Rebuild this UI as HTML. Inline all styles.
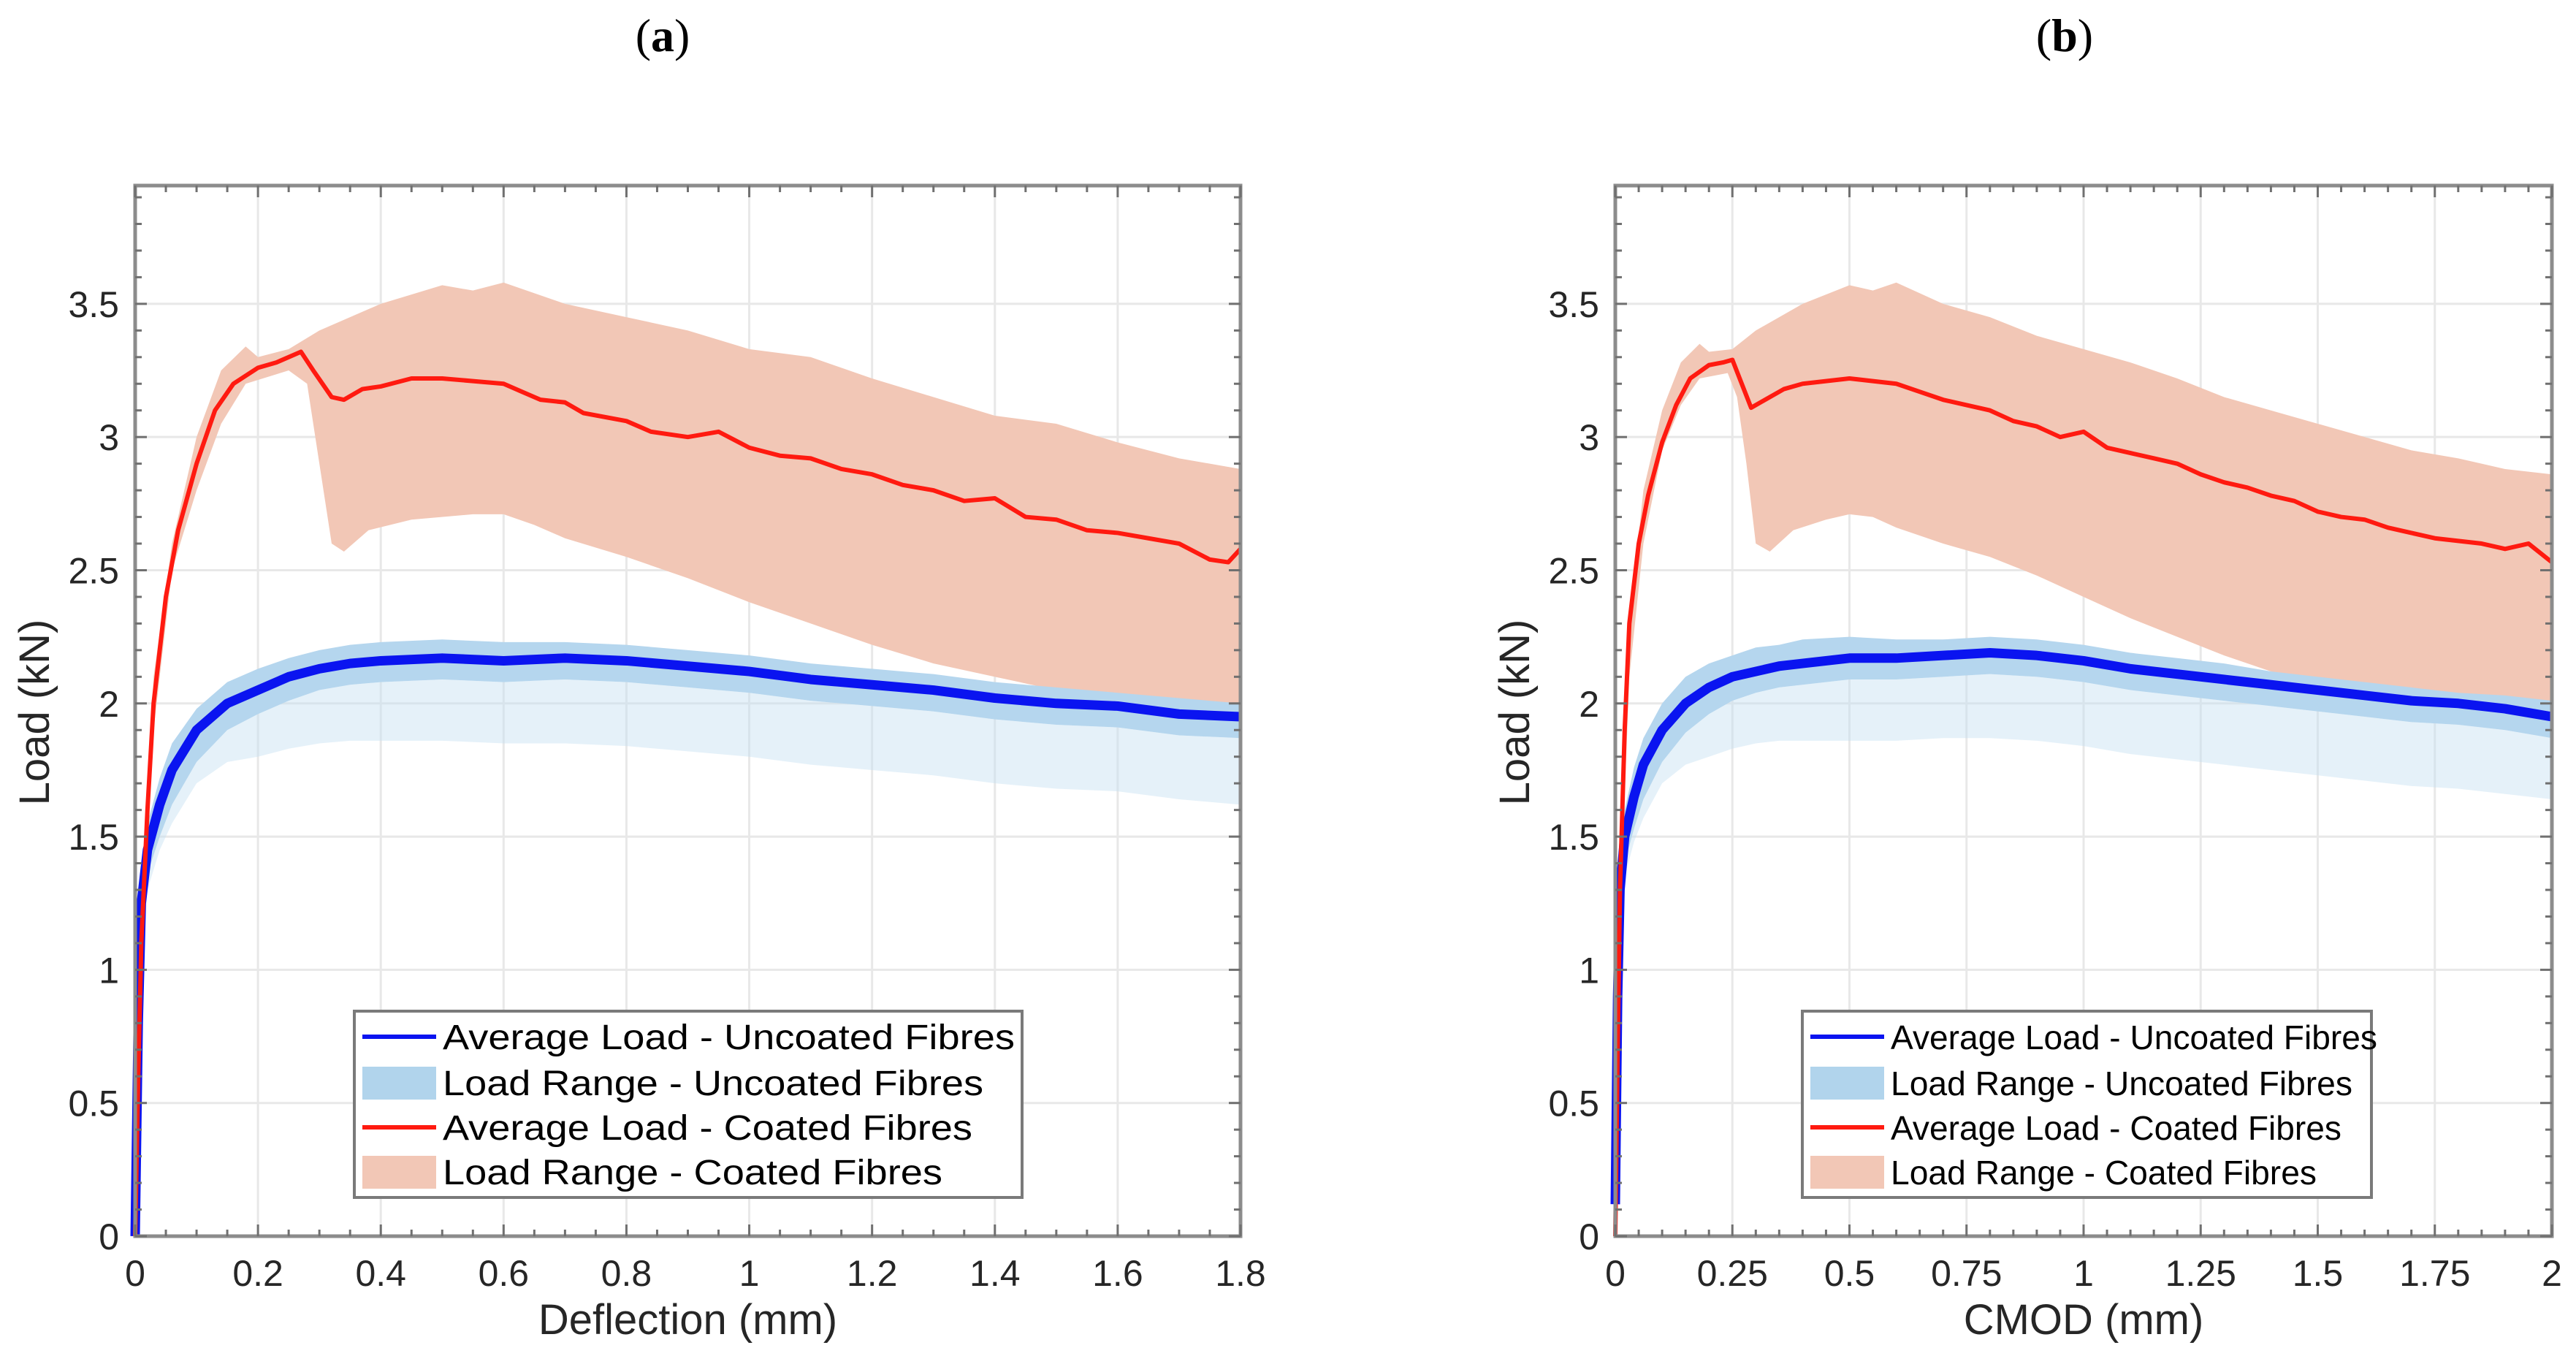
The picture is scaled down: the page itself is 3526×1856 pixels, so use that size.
<!DOCTYPE html>
<html><head><meta charset="utf-8">
<style>
html,body{margin:0;padding:0;background:#fff;}
svg{display:block;font-family:"Liberation Sans",Arial,sans-serif;}
</style></head>
<body>
<svg id="fig" width="3526" height="1856" viewBox="0 0 3526 1856" xmlns="http://www.w3.org/2000/svg">
<rect width="3526" height="1856" fill="#fff"/>
<text x="907" y="70" font-family="Liberation Serif,serif" font-size="64" text-anchor="middle" fill="#000">(<tspan font-weight="bold">a</tspan>)</text>
<text x="2826" y="70" font-family="Liberation Serif,serif" font-size="64" text-anchor="middle" fill="#000">(<tspan font-weight="bold">b</tspan>)</text>
</svg>
<script>
// ---------- Panel (a): Deflection ----------
const aCoatAvgX = [0,0.005,0.01,0.02,0.03,0.05,0.07,0.1,0.13,0.16,0.2,0.23,0.27,0.29,0.32,0.34,0.37,0.4,0.45,0.5,0.55,0.6,0.63,0.66,0.7,0.73,0.8,0.84,0.9,0.95,1.0,1.05,1.1,1.15,1.2,1.25,1.3,1.35,1.4,1.45,1.5,1.55,1.6,1.65,1.7,1.75,1.78,1.8];
const aCoatAvgY = [0,0.6,1.1,1.6,2.0,2.4,2.65,2.9,3.1,3.2,3.26,3.28,3.32,3.25,3.15,3.14,3.18,3.19,3.22,3.22,3.21,3.2,3.17,3.14,3.13,3.09,3.06,3.02,3.0,3.02,2.96,2.93,2.92,2.88,2.86,2.82,2.8,2.76,2.77,2.7,2.69,2.65,2.64,2.62,2.6,2.54,2.53,2.58];
const aCoatUpX = [0,0.01,0.03,0.06,0.1,0.14,0.18,0.2,0.25,0.3,0.4,0.5,0.55,0.6,0.7,0.8,0.9,1.0,1.1,1.2,1.3,1.4,1.5,1.6,1.7,1.8];
const aCoatUpY = [0,1.2,2.1,2.6,3.0,3.25,3.34,3.3,3.33,3.4,3.5,3.57,3.55,3.58,3.5,3.45,3.4,3.33,3.3,3.22,3.15,3.08,3.05,2.98,2.92,2.88];
const aCoatLoX = [0,0.01,0.03,0.06,0.1,0.14,0.18,0.25,0.28,0.3,0.32,0.34,0.38,0.45,0.55,0.6,0.65,0.7,0.8,0.9,1.0,1.1,1.2,1.3,1.4,1.5,1.6,1.7,1.8];
const aCoatLoY = [0,1.0,1.9,2.5,2.8,3.05,3.2,3.25,3.2,2.9,2.6,2.57,2.65,2.69,2.71,2.71,2.67,2.62,2.55,2.47,2.38,2.3,2.22,2.15,2.1,2.05,2.0,1.98,2.0];
const aUncAvgX = [0,0.005,0.01,0.02,0.04,0.06,0.1,0.15,0.2,0.25,0.3,0.35,0.4,0.5,0.6,0.7,0.8,0.9,1.0,1.1,1.2,1.3,1.4,1.5,1.6,1.7,1.8];
const aUncAvgY = [0,0.8,1.25,1.45,1.62,1.75,1.9,2.0,2.05,2.1,2.13,2.15,2.16,2.17,2.16,2.17,2.16,2.14,2.12,2.09,2.07,2.05,2.02,2.0,1.99,1.96,1.95];
const aUncUpY  = [0,0.9,1.35,1.55,1.72,1.85,1.98,2.08,2.13,2.17,2.2,2.22,2.23,2.24,2.23,2.23,2.22,2.2,2.18,2.15,2.13,2.11,2.08,2.06,2.04,2.02,2.0];
const aUncMidY = [0,0.72,1.18,1.36,1.5,1.62,1.78,1.9,1.96,2.01,2.05,2.07,2.08,2.09,2.08,2.09,2.08,2.06,2.04,2.01,1.99,1.97,1.94,1.92,1.91,1.88,1.87];
const aUncLoY  = [0,0.7,1.15,1.3,1.45,1.55,1.7,1.78,1.8,1.83,1.85,1.86,1.86,1.86,1.85,1.85,1.84,1.82,1.8,1.77,1.75,1.73,1.7,1.68,1.67,1.64,1.62];
const aXTicks = [0,0.2,0.4,0.6,0.8,1,1.2,1.4,1.6,1.8];
const aXTickLabels = ["0","0.2","0.4","0.6","0.8","1","1.2","1.4","1.6","1.8"];

// ---------- Panel (b): CMOD ----------
const bCoatAvgX = [0,0.005,0.01,0.02,0.03,0.05,0.07,0.1,0.13,0.16,0.2,0.23,0.25,0.27,0.29,0.32,0.36,0.4,0.45,0.5,0.55,0.6,0.65,0.7,0.75,0.8,0.85,0.9,0.95,1.0,1.05,1.1,1.15,1.2,1.25,1.3,1.35,1.4,1.45,1.5,1.55,1.6,1.65,1.7,1.75,1.8,1.85,1.9,1.95,2.0];
const bCoatAvgY = [0,0.7,1.3,1.9,2.3,2.6,2.78,2.98,3.12,3.22,3.27,3.28,3.29,3.2,3.11,3.14,3.18,3.2,3.21,3.22,3.21,3.2,3.17,3.14,3.12,3.1,3.06,3.04,3.0,3.02,2.96,2.94,2.92,2.9,2.86,2.83,2.81,2.78,2.76,2.72,2.7,2.69,2.66,2.64,2.62,2.61,2.6,2.58,2.6,2.53];
const bCoatUpX = [0,0.01,0.03,0.06,0.1,0.14,0.18,0.2,0.25,0.3,0.4,0.5,0.55,0.6,0.7,0.8,0.9,1.0,1.1,1.2,1.3,1.4,1.5,1.6,1.7,1.8,1.9,2.0];
const bCoatUpY = [0,1.4,2.3,2.8,3.1,3.28,3.35,3.32,3.33,3.4,3.5,3.57,3.55,3.58,3.5,3.45,3.38,3.33,3.28,3.22,3.15,3.1,3.05,3.0,2.95,2.92,2.88,2.86];
const bCoatLoX = [0,0.01,0.03,0.06,0.1,0.14,0.18,0.24,0.26,0.28,0.3,0.33,0.38,0.45,0.5,0.55,0.6,0.7,0.8,0.9,1.0,1.1,1.2,1.3,1.4,1.5,1.6,1.7,1.8,1.9,2.0];
const bCoatLoY = [0,1.2,2.1,2.6,2.95,3.12,3.22,3.24,3.15,2.9,2.6,2.57,2.65,2.69,2.71,2.7,2.66,2.6,2.55,2.48,2.4,2.32,2.25,2.18,2.12,2.07,2.03,2.0,1.98,1.98,2.0];
const bUncAvgX = [0,0.005,0.01,0.02,0.04,0.06,0.1,0.15,0.2,0.25,0.3,0.35,0.4,0.5,0.6,0.7,0.8,0.9,1.0,1.1,1.2,1.3,1.4,1.5,1.6,1.7,1.8,1.9,2.0];
const bUncAvgY = [0.12,0.9,1.3,1.5,1.65,1.77,1.9,2.0,2.06,2.1,2.12,2.14,2.15,2.17,2.17,2.18,2.19,2.18,2.16,2.13,2.11,2.09,2.07,2.05,2.03,2.01,2.0,1.98,1.95];
const bUncUpY  = [0.12,1.0,1.4,1.6,1.76,1.87,2.0,2.1,2.15,2.18,2.21,2.22,2.24,2.25,2.24,2.24,2.25,2.24,2.22,2.19,2.17,2.15,2.12,2.1,2.08,2.06,2.04,2.03,2.01];
const bUncMidY = [0.12,0.82,1.22,1.4,1.53,1.64,1.78,1.89,1.96,2.01,2.04,2.06,2.07,2.09,2.09,2.1,2.11,2.1,2.08,2.05,2.03,2.01,1.99,1.97,1.95,1.93,1.92,1.9,1.87];
const bUncLoY  = [0.12,0.8,1.2,1.35,1.48,1.57,1.7,1.77,1.8,1.83,1.85,1.86,1.86,1.86,1.86,1.87,1.87,1.86,1.84,1.81,1.79,1.77,1.75,1.73,1.71,1.69,1.68,1.66,1.64];
const bXTicks = [0,0.25,0.5,0.75,1,1.25,1.5,1.75,2];
const bXTickLabels = ["0","0.25","0.5","0.75","1","1.25","1.5","1.75","2"];

const yTicks = [0,0.5,1,1.5,2,2.5,3,3.5];
const yTickLabels = ["0","0.5","1","1.5","2","2.5","3","3.5"];
const legendLabels = ["Average Load - Uncoated Fibres","Load Range - Uncoated Fibres","Average Load - Coated Fibres","Load Range - Coated Fibres"];

const NS = "http://www.w3.org/2000/svg";
const svg = document.getElementById('fig');
function mk(tag, attrs, parent){
  const e = document.createElementNS(NS, tag);
  for (const k in attrs) e.setAttribute(k, attrs[k]);
  (parent||svg).appendChild(e); return e;
}

function drawPanel(p){
  const g = mk('g', {});
  
  
  const X = v => p.x0 + v / p.xmax * (p.x1 - p.x0);
  const Y = v => p.y1 - v / p.ymax * (p.y1 - p.y0);
  p.xt.forEach(v => { const l = mk('line', {x1:X(v),x2:X(v),y1:p.y0,y2:p.y1,stroke:'#e8e8e8','stroke-width':3}, g);
      });
  yTicks.forEach(v => { const l = mk('line', {x1:p.x0,x2:p.x1,y1:Y(v),y2:Y(v),stroke:'#e8e8e8','stroke-width':3}, g);
      });
  const band = (xs, up, xs2, lo) => {
    let d = 'M' + xs.map((x,i)=>X(x)+','+Y(up[i])).join('L');
    for (let i = xs2.length-1; i >= 0; i--) d += 'L' + X(xs2[i]) + ',' + Y(lo[i]);
    return d + 'Z';
  };
  const line = (xs, ys) => 'M' + xs.map((x,i)=>X(x)+','+Y(ys[i])).join('L');
  const cb = mk('path', {d: band(p.cux, p.cuy, p.clx, p.cly), fill:'#f2c7b6'}, g);
   
  const ubf = mk('path', {d: band(p.ux, p.umy, p.ux, p.uly), fill:'#c6e0f2', 'fill-opacity':0.45}, g);
   
  const ub = mk('path', {d: band(p.ux, p.uuy, p.ux, p.umy), fill:'#b5d6ee'}, g);
   
  const ul = mk('path', {d: line(p.ux, p.uay), fill:'none', stroke:'#0a14f0','stroke-width':13,'stroke-linejoin':'round'}, g);
   
  const cl = mk('path', {d: line(p.cax, p.cay), fill:'none', stroke:'#ff1a10','stroke-width':6,'stroke-linejoin':'round'}, g);
   
  const box = mk('rect', {x:p.x0,y:p.y0,width:p.x1-p.x0,height:p.y1-p.y0,fill:'none',stroke:'#8c8c8c','stroke-width':5}, g);
   
  for (let v = 0; v <= p.xmax + 1e-9; v += p.xminor) {
    const major = p.xt.some(t => Math.abs(t-v) < 1e-6); const L = major ? 16 : 9;
    mk('line',{x1:X(v),x2:X(v),y1:p.y1,y2:p.y1-L,stroke:'#707070','stroke-width':3},g);
    mk('line',{x1:X(v),x2:X(v),y1:p.y0,y2:p.y0+L,stroke:'#707070','stroke-width':3},g);
  }
  for (let v = 0; v <= p.ymax + 1e-9; v += 0.1) {
    const major = Math.abs(v*2 - Math.round(v*2)) < 1e-6; const L = major ? 16 : 9;
    mk('line',{x1:p.x0,x2:p.x0+L,y1:Y(v),y2:Y(v),stroke:'#707070','stroke-width':3},g);
    mk('line',{x1:p.x1,x2:p.x1-L,y1:Y(v),y2:Y(v),stroke:'#707070','stroke-width':3},g);
  }
  p.xt.forEach((v,i) => { const t = mk('text',{x:X(v),y:p.y1+68,'font-size':50,'text-anchor':'middle',fill:'#262626'},g);
    t.textContent = p.xl[i];   });
  yTicks.forEach((v,i) => { const t = mk('text',{x:p.x0-22,y:Y(v)+18,'font-size':50,'text-anchor':'end',fill:'#262626'},g);
    t.textContent = yTickLabels[i];   });
  const xt = mk('text',{x:(p.x0+p.x1)/2,y:1826,'font-size':58,'text-anchor':'middle',fill:'#262626'},g);
  xt.textContent = p.xtitle;  
  const yt = mk('text',{x:0,y:0,'font-size':58,'text-anchor':'middle',fill:'#262626',transform:'translate('+(p.x0-118)+',975) rotate(-90)'},g);
  yt.textContent = 'Load (kN)';  
  const lg = mk('g',{},g);
   
  mk('rect',{x:p.lx,y:1384,width:p.lw,height:255,fill:'#fff',stroke:'#7a7a7a','stroke-width':4},lg);
  const rows = [1419,1482,1543,1604];
  rows.forEach((ry,i) => {
    if (i===0) mk('line',{x1:p.lx+11,x2:p.lx+112,y1:ry,y2:ry,stroke:'#0a14f0','stroke-width':6},lg);
    if (i===2) mk('line',{x1:p.lx+11,x2:p.lx+112,y1:ry,y2:ry,stroke:'#ff1a10','stroke-width':6},lg);
    if (i===1) mk('rect',{x:p.lx+11,y:ry-22,width:101,height:45,fill:'#b1d4ec'},lg);
    if (i===3) mk('rect',{x:p.lx+11,y:ry-22,width:101,height:45,fill:'#f2c7b6'},lg);
    const t = mk('text',{x:p.lx+121,y:ry+17,'font-size':p.lfs,fill:'#000',textLength:p.ltl[i],lengthAdjust:'spacingAndGlyphs'},lg);
    t.textContent = legendLabels[i];
     
  });
}

drawPanel({id:'panel-a', x0:185, x1:1698, y0:254, y1:1692, xmax:1.8, ymax:3.944, xminor:0.05,
  xt:aXTicks, xl:aXTickLabels, xtitle:'Deflection (mm)',
  cax:aCoatAvgX, cay:aCoatAvgY, cux:aCoatUpX, cuy:aCoatUpY, clx:aCoatLoX, cly:aCoatLoY,
  ux:aUncAvgX, uay:aUncAvgY, uuy:aUncUpY, umy:aUncMidY, uly:aUncLoY,
  lx:485, lw:914, lfs:48, ltl:[783,740,725,684]});
drawPanel({id:'panel-b', x0:2211, x1:3493, y0:254, y1:1692, xmax:2, ymax:3.944, xminor:0.05,
  xt:bXTicks, xl:bXTickLabels, xtitle:'CMOD (mm)',
  cax:bCoatAvgX, cay:bCoatAvgY, cux:bCoatUpX, cuy:bCoatUpY, clx:bCoatLoX, cly:bCoatLoY,
  ux:bUncAvgX, uay:bUncAvgY, uuy:bUncUpY, umy:bUncMidY, uly:bUncLoY,
  lx:2467, lw:779, lfs:46, ltl:[666,632,617,583]});
</script>
</body></html>
